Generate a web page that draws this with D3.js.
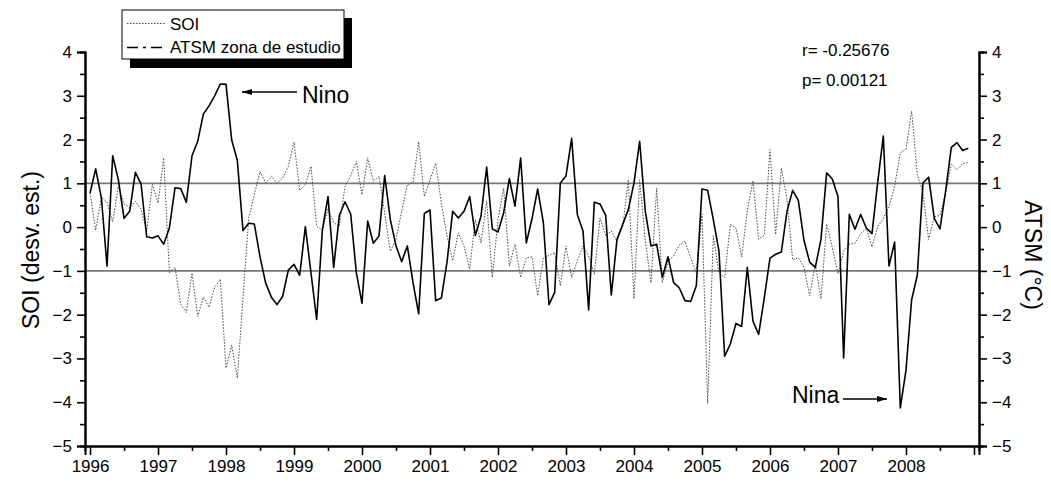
<!DOCTYPE html>
<html>
<head>
<meta charset="utf-8">
<script src="https://cdn.jsdelivr.net/npm/d3@7"></script>
<style>
  html, body { margin: 0; padding: 0; background: #fff; }
  svg { display: block; font-family: "Liberation Sans", Arial, sans-serif; }
</style>
</head>
<body>
<svg id="chart" width="1051" height="485"></svg>
<script>
// Monthly series, Jan 1996 .. Dec 2008
const startYear = 1996;
const yearLabels = [1996, 1997, 1998, 1999, 2000, 2001, 2002, 2003, 2004, 2005, 2006, 2007, 2008];
const yTicks = [-5, -4, -3, -2, -1, 0, 1, 2, 3, 4];
const refLines = [1, -1];

// Southern Oscillation Index (standardized)
const soi = [
  0.78, -0.07, 0.68, 0.57, 0.12, 0.93, 0.53, 0.44, 0.59, 0.41, -0.10, 0.98,
  0.55, 1.58, -1.04, -0.92, -1.76, -1.95, -1.05, -2.04, -1.60, -1.83, -1.38, -1.19,
  -3.22, -2.70, -3.45, -1.60, 0.20, 0.75, 1.27, 1.01, 1.17, 1.00, 1.12, 1.39,
  1.94, 0.84, 0.97, 1.39, 0.02, -0.07, 0.42, 0.10, 0.02, 0.93, 1.17, 1.50,
  0.74, 1.58, 1.05, 1.16, 0.33, -0.55, -0.28, 0.36, 0.97, 1.01, 1.95, 0.70,
  1.08, 1.46, 0.55, -0.20, -0.77, -0.13, -0.43, -0.96, 0.17, -0.36, 0.59, -1.15,
  0.17, 0.89, -0.89, -0.39, -1.15, -0.70, -0.68, -1.57, -0.70, -0.65, -0.58, -1.34,
  -0.43, -1.15, -0.77, -0.43, -0.66, -1.08, 0.21, -0.20, -0.09, -0.32, 0.00, 1.08,
  -1.64, 1.08, -0.32, -1.27, 0.89, -1.27, -0.77, -0.66, -0.41, -0.32, -0.70, -1.04,
  0.30, -4.03, -0.20, -1.04, -1.15, 0.06, -0.02, -0.68, 0.37, 1.06, -0.28, -0.18,
  1.77, -0.17, 1.35, 0.65, -0.75, -0.70, -0.92, -1.57, -0.85, -1.64, 0.07, -0.47,
  -1.06, -0.55, -0.39, -0.37, -0.15, -0.03, -0.45, 0.00, 0.20, 0.46, 0.93, 1.70,
  1.78, 2.65, 1.20, 0.78, -0.28, 0.23, 0.27, 0.78, 1.44, 1.31, 1.45, 1.48
];

// Sea surface temperature anomaly in the study area (°C)
const atsm = [
  0.78, 1.33, 0.67, -0.89, 1.63, 1.08, 0.20, 0.36, 1.25, 0.99, -0.22, -0.25,
  -0.20, -0.39, -0.02, 0.90, 0.88, 0.57, 1.63, 1.96, 2.58, 2.77, 3.00, 3.27,
  3.26, 1.99, 1.52, -0.08, 0.09, 0.07, -0.68, -1.28, -1.60, -1.77, -1.58, -0.98,
  -0.85, -1.10, 0.01, -1.05, -2.11, -0.07, 0.70, -0.92, 0.27, 0.58, 0.30, -1.04,
  -1.74, 0.14, -0.37, -0.20, 1.18, 0.17, -0.43, -0.79, -0.43, -1.27, -1.98, 0.31,
  0.39, -1.68, -1.62, -0.80, 0.36, 0.21, 0.36, 0.70, -0.19, 0.25, 1.37, -0.04,
  -0.11, 0.33, 1.11, 0.48, 1.58, -0.36, 0.19, 0.87, 0.11, -1.77, -1.49, 1.01,
  1.17, 2.03, 0.29, -0.09, -1.89, 0.57, 0.53, 0.27, -1.55, -0.28, 0.06, 0.40,
  1.01, 1.96, 0.36, -0.43, -0.39, -1.15, -0.68, -1.27, -1.39, -1.68, -1.70, -1.34,
  0.87, 0.84, 0.17, -0.55, -2.95, -2.67, -2.20, -2.27, -0.92, -2.15, -2.45, -1.61,
  -0.71, -0.62, -0.57, 0.36, 0.84, 0.61, -0.30, -0.80, -0.92, -0.28, 1.24, 1.10,
  0.70, -2.99, 0.29, -0.05, 0.29, -0.02, -0.15, 1.01, 2.08, -0.89, -0.34, -4.13,
  -3.27, -1.66, -1.10, 1.01, 1.14, 0.20, -0.04, 0.82, 1.82, 1.93, 1.75, 1.80
];

const stats = ["r= -0.25676", "p= 0.00121"];

const svg = d3.select("#chart");
const plot = { left: 85, right: 979, top: 52, bottom: 446 };

const x = d3.scaleLinear()
  .domain([1995.926, 2009.074])
  .range([plot.left, plot.right]);
const y = d3.scaleLinear()
  .domain([-5, 4])
  .range([plot.bottom, plot.top]);

const t = i => startYear + i / 12;

// reference lines at ±1
svg.append("g").selectAll("line").data(refLines).join("line")
  .attr("x1", plot.left).attr("x2", plot.right)
  .attr("y1", d => y(d)).attr("y2", d => y(d))
  .attr("stroke", "#777").attr("stroke-width", 1.6);

const line = series => d3.line()
  .x((d, i) => x(t(i)))
  .y(d => y(d))(series);

// SOI: thin grey dotted trace
svg.append("path")
  .attr("d", line(soi))
  .attr("fill", "none")
  .attr("stroke", "#4a4a4a")
  .attr("stroke-width", 1)
  .attr("stroke-dasharray", "1.5,1.5");

// ATSM: solid black trace
svg.append("path")
  .attr("d", line(atsm))
  .attr("fill", "none")
  .attr("stroke", "#000")
  .attr("stroke-width", 1.6)
  .attr("stroke-linejoin", "round");

// axes
const fontSize = 17;
const styleAxis = g => {
  g.select(".domain").attr("stroke", "#000").attr("stroke-width", 2);
  g.selectAll(".tick line").attr("stroke", "#000").attr("stroke-width", 1.6);
  g.selectAll("text").attr("font-size", fontSize).attr("fill", "#000")
    .attr("font-family", "'Liberation Sans', Arial, sans-serif");
};

const halfSteps = d3.range(-4.5, 4, 1);
const yearMinor = d3.range(1996.5, 2009, 1);
const yearMajor = yearLabels.concat([2009]);

// left axis
svg.append("g").attr("transform", `translate(${plot.left},0)`)
  .call(d3.axisLeft(y).tickValues(yTicks).tickSize(8).tickPadding(5).tickFormat(d3.format("d")))
  .call(styleAxis);
svg.append("g").attr("transform", `translate(${plot.left},0)`)
  .call(d3.axisLeft(y).tickValues(halfSteps).tickSize(5).tickFormat(""))
  .call(styleAxis);

// right axis
svg.append("g").attr("transform", `translate(${plot.right},0)`)
  .call(d3.axisRight(y).tickValues(yTicks).tickSize(8).tickPadding(5).tickFormat(d3.format("d")))
  .call(styleAxis);
svg.append("g").attr("transform", `translate(${plot.right},0)`)
  .call(d3.axisRight(y).tickValues(halfSteps).tickSize(5).tickFormat(""))
  .call(styleAxis);

// bottom axis
svg.append("g").attr("transform", `translate(0,${plot.bottom})`)
  .call(d3.axisBottom(x).tickValues(yearMajor).tickSize(9).tickPadding(5)
    .tickFormat(d => yearLabels.includes(d) ? String(d) : ""))
  .call(styleAxis);
svg.append("g").attr("transform", `translate(0,${plot.bottom})`)
  .call(d3.axisBottom(x).tickValues(yearMinor).tickSize(5).tickFormat(""))
  .call(styleAxis);

// axis titles
svg.append("text")
  .attr("transform", `translate(39,${(plot.top + plot.bottom) / 2 + 1}) rotate(-90)`)
  .attr("text-anchor", "middle")
  .attr("font-size", 23)
  .text("SOI (desv. est.)");
svg.append("text")
  .attr("transform", `translate(1025,${(plot.top + plot.bottom) / 2 + 6}) rotate(90)`)
  .attr("text-anchor", "middle")
  .attr("font-size", 23)
  .text("ATSM (°C)");

// correlation statistics
svg.append("g").selectAll("text").data(stats).join("text")
  .attr("x", 802).attr("y", (d, i) => 56 + i * 30)
  .attr("font-size", fontSize)
  .text(d => d);

// event annotations
const defs = svg.append("defs");
defs.append("marker").attr("id", "head")
  .attr("viewBox", "0 0 10 6").attr("refX", 10).attr("refY", 3)
  .attr("markerWidth", 14).attr("markerHeight", 6).attr("markerUnits", "userSpaceOnUse")
  .attr("orient", "auto")
  .append("path").attr("d", "M0,0 L10,3 L0,6 Z").attr("fill", "#000");

svg.append("line")
  .attr("x1", 297).attr("y1", 92).attr("x2", 242).attr("y2", 92)
  .attr("stroke", "#000").attr("stroke-width", 1.3).attr("marker-end", "url(#head)");
svg.append("text").attr("x", 302).attr("y", 103).attr("font-size", 23).text("Nino");

svg.append("line")
  .attr("x1", 843).attr("y1", 399).attr("x2", 887).attr("y2", 399)
  .attr("stroke", "#000").attr("stroke-width", 1.3).attr("marker-end", "url(#head)");
svg.append("text").attr("x", 792).attr("y", 403).attr("font-size", 23).text("Nina");

// legend with drop shadow
const legend = svg.append("g");
legend.append("rect").attr("x", 130).attr("y", 18).attr("width", 222).attr("height", 50).attr("fill", "#000");
legend.append("rect").attr("x", 122).attr("y", 10).attr("width", 222).attr("height", 49)
  .attr("fill", "#fff").attr("stroke", "#000").attr("stroke-width", 1);
legend.append("line").attr("x1", 127).attr("x2", 165).attr("y1", 23.5).attr("y2", 23.5)
  .attr("stroke", "#4a4a4a").attr("stroke-width", 1).attr("stroke-dasharray", "1.5,1.5");
legend.append("line").attr("x1", 127).attr("x2", 165).attr("y1", 47.5).attr("y2", 47.5)
  .attr("stroke", "#000").attr("stroke-width", 1.6).attr("stroke-dasharray", "11,5,3,5");
legend.append("text").attr("x", 170).attr("y", 30).attr("font-size", fontSize).text("SOI");
legend.append("text").attr("x", 170).attr("y", 53).attr("font-size", fontSize).text("ATSM zona de estudio");
</script>
</body>
</html>
